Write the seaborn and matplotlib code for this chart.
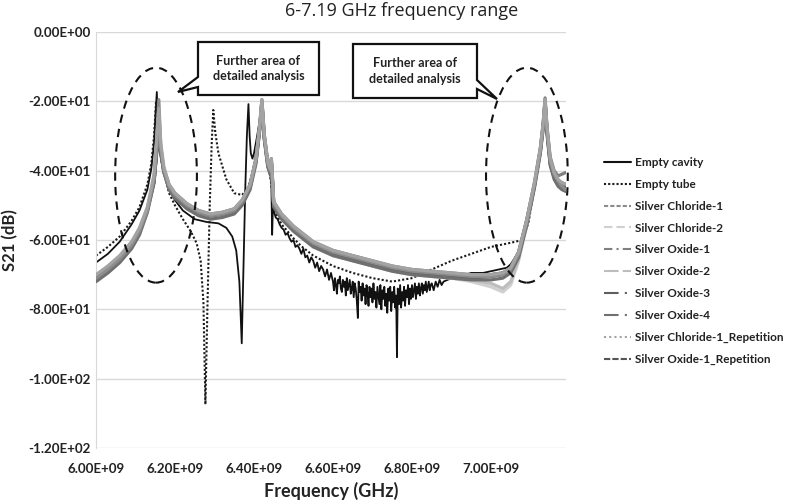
import numpy as np
import pandas as pd
import seaborn as sns
import matplotlib
matplotlib.use("Agg")
import matplotlib.pyplot as plt
from matplotlib.patches import Ellipse, Polygon
from matplotlib.ticker import FuncFormatter

# ---- data (frequency in GHz, S21 in dB) ----
CAV_F = [6.000, 6.030, 6.060, 6.090, 6.110, 6.130, 6.140, 6.147, 6.151, 6.154,
         6.157, 6.161, 6.170, 6.185, 6.200, 6.220, 6.250, 6.280, 6.310, 6.330,
         6.345, 6.355, 6.363, 6.369, 6.373, 6.378, 6.382, 6.386, 6.389, 6.392,
         6.396, 6.400, 6.408, 6.415, 6.420, 6.426, 6.435, 6.441, 6.444, 6.446,
         6.448]
CAV_DB = [-66.5, -64.0, -60.5, -55.5, -51.5, -45.5, -39.5, -32.0, -23.0, -17.3,
          -27.0, -34.0, -40.5, -45.5, -48.5, -51.5, -54.0, -54.8, -55.2, -56.5,
          -59.0, -63.0, -72.0, -89.8, -70.0, -45.0, -30.0, -20.8, -30.0, -35.0,
          -36.5, -35.0, -30.0, -25.0, -20.5, -30.0, -38.0, -41.0, -44.0, -58.5,
          -50.0]
# noisy stretch of the empty cavity trace (MHz)
CAV_NOISE_F = [6450, 6455, 6460, 6465, 6470, 6475, 6480, 6485, 6490, 6495,
               6500, 6505, 6510, 6515, 6520, 6525, 6530, 6535, 6540, 6545,
               6550, 6555, 6560, 6565, 6570, 6575, 6580, 6585, 6590, 6595,
               6600, 6602.5, 6605, 6607.5, 6610, 6612.5, 6615, 6617.5, 6620, 6622.5,
               6625, 6627.5, 6630, 6632.5, 6635, 6637.5, 6640, 6642.5, 6645, 6647.5,
               6650, 6652.5, 6655, 6657.5, 6660, 6663, 6665, 6667.5, 6670, 6672.5,
               6675, 6677.5, 6680, 6682.5, 6685, 6687.5, 6690, 6692.5, 6695, 6697.5,
               6700, 6702.5, 6705, 6707.5, 6710, 6712.5, 6715, 6717.5, 6720, 6722.5,
               6725, 6727.5, 6730, 6732.5, 6735, 6737.5, 6740, 6742.5, 6745, 6747.5,
               6750, 6752.5, 6755, 6757.5, 6760, 6762, 6764, 6767.5, 6770, 6772.5,
               6775, 6777.5, 6780, 6782.5, 6785, 6787.5, 6790, 6792.5, 6795, 6797.5,
               6800, 6802.5, 6805, 6807.5, 6810, 6812.5, 6815, 6817.5, 6820, 6822.5,
               6825, 6827.5, 6830, 6832.5, 6835, 6837.5, 6840, 6842.5, 6845, 6847.5,
               6850, 6855, 6860, 6865, 6870, 6875, 6880, 6890, 6900]
CAV_NOISE_DB = [-51.5, -53.5, -54.0, -55.5, -56.5, -57.0, -58.5, -58.0, -59.5, -60.5,
                -60.0, -62.0, -61.5, -62.5, -64.0, -62.5, -65.0, -64.5, -66.5, -65.0,
                -66.0, -68.0, -66.5, -69.0, -67.5, -68.5, -70.5, -68.5, -71.5, -69.5,
                -72.0, -74.5, -71.0, -73.0, -75.5, -71.5, -72.5, -70.5, -74.0, -75.0,
                -71.5, -73.5, -72.0, -76.0, -71.0, -74.5, -73.0, -71.5, -75.5, -74.0,
                -72.0, -76.5, -72.5, -74.0, -77.0, -82.5, -72.0, -75.0, -73.5, -77.5,
                -72.5, -76.0, -74.0, -78.5, -73.0, -75.5, -79.0, -73.5, -76.5, -74.0,
                -78.0, -72.5, -77.0, -75.0, -79.5, -73.5, -76.0, -78.5, -73.0, -80.0,
                -74.5, -77.0, -73.5, -79.0, -75.5, -81.0, -74.0, -77.5, -73.5, -80.5,
                -75.0, -78.0, -73.5, -79.5, -76.0, -93.8, -74.0, -78.5, -73.0, -79.5,
                -75.0, -77.5, -73.5, -79.0, -74.5, -76.5, -73.0, -78.5, -74.0, -77.0,
                -73.0, -76.5, -74.5, -72.5, -77.0, -73.5, -75.5, -72.5, -76.0, -74.0,
                -72.5, -75.5, -73.0, -74.5, -72.0, -75.0, -73.5, -72.0, -74.5, -73.0,
                -72.5, -74.5, -72.0, -73.5, -71.5, -73.0, -72.0, -71.5, -71.0]
CAV_RIGHT_F = [6.920, 6.950, 6.980, 7.000, 7.020, 7.040, 7.050, 7.070, 7.090, 7.110,
               7.125, 7.132, 7.137, 7.142, 7.150, 7.160, 7.170, 7.180, 7.190]
CAV_RIGHT_DB = [-70.5, -69.5, -69.5, -69.0, -68.5, -68.0, -67.0, -63.5, -55.0, -44.0,
                -34.0, -27.0, -21.0, -29.0, -38.0, -42.0, -44.0, -45.0, -45.5]

TUBE_F = [6.000, 6.030, 6.060, 6.090, 6.110, 6.130, 6.140, 6.147, 6.152, 6.156,
          6.160, 6.170, 6.185, 6.200, 6.220, 6.240, 6.255, 6.265, 6.272, 6.277,
          6.282, 6.288, 6.293, 6.297, 6.302, 6.310, 6.330, 6.350, 6.370, 6.385,
          6.395, 6.405, 6.414, 6.420, 6.426, 6.435, 6.441, 6.446, 6.450, 6.470,
          6.500, 6.520, 6.550, 6.600, 6.650, 6.700, 6.750, 6.800, 6.850, 6.900,
          6.950, 7.000, 7.050, 7.080, 7.095, 7.110, 7.125, 7.132, 7.137, 7.142,
          7.150, 7.160, 7.170, 7.180, 7.190]
TUBE_DB = [-64.5, -62.0, -59.0, -54.5, -50.5, -44.0, -38.0, -30.0, -20.0, -25.0,
           -33.0, -40.0, -46.5, -50.0, -54.0, -57.5, -61.0, -66.0, -78.0, -107.4,
           -80.0, -50.0, -32.0, -22.5, -29.0, -35.0, -42.5, -46.5, -47.0, -45.0,
           -41.0, -35.0, -27.5, -21.0, -31.0, -39.0, -41.5, -46.0, -51.0, -55.5,
           -59.5, -61.8, -64.5, -67.5, -69.5, -71.0, -72.0, -71.0, -68.5, -66.0,
           -64.0, -62.0, -60.8, -60.0, -55.0, -45.0, -35.0, -28.0, -22.0, -30.0,
           -38.0, -42.5, -44.0, -44.5, -45.0]

GREY_F = [6.000, 6.030, 6.060, 6.090, 6.110, 6.130, 6.147, 6.154, 6.159, 6.164,
          6.172, 6.185, 6.200, 6.230, 6.260, 6.290, 6.320, 6.350, 6.370, 6.390,
          6.405, 6.414, 6.420, 6.426, 6.435, 6.441, 6.444, 6.447, 6.450, 6.470,
          6.500, 6.550, 6.600, 6.650, 6.700, 6.750, 6.800, 6.850, 6.900, 6.950,
          7.000, 7.030, 7.050, 7.070, 7.090, 7.110, 7.125, 7.132, 7.137, 7.142,
          7.150, 7.160, 7.170, 7.180, 7.190]
SC1_DB = [-71.0, -68.5, -65.5, -61.5, -57.5, -51.5, -42.0, -32.0, -19.5, -33.0,
          -40.0, -44.5, -47.0, -50.0, -52.0, -53.0, -52.5, -51.5, -49.0, -44.5,
          -37.0, -28.0, -20.0, -30.0, -38.0, -40.0, -37.0, -43.0, -49.5, -53.0,
          -56.5, -61.0, -63.5, -65.0, -66.5, -68.0, -69.0, -69.5, -70.0, -70.5,
          -70.5, -70.0, -68.5, -64.0, -55.0, -44.0, -34.0, -27.0, -19.5, -28.0,
          -37.0, -41.0, -43.0, -44.5, -45.5]
SC2_DB = [-72.0, -69.5, -66.5, -62.5, -58.5, -52.0, -43.5, -34.0, -31.0, -35.0,
          -40.5, -45.0, -47.5, -50.5, -52.5, -53.5, -53.0, -52.0, -49.5, -45.0,
          -37.5, -28.5, -20.5, -30.5, -38.5, -40.5, -38.0, -44.0, -50.0, -53.5,
          -57.0, -61.5, -64.0, -65.5, -67.0, -68.5, -69.5, -70.5, -71.0, -72.0,
          -73.5, -75.0, -73.0, -66.0, -56.0, -45.0, -35.0, -28.0, -20.0, -29.0,
          -38.0, -42.0, -44.0, -45.0, -46.0]
SO1_DB = [-70.5, -68.0, -65.0, -61.0, -57.0, -51.0, -42.5, -33.5, -30.5, -34.0,
          -39.5, -44.0, -46.5, -49.5, -51.5, -52.5, -52.0, -51.0, -48.5, -44.0,
          -36.5, -27.5, -19.5, -29.5, -37.5, -39.5, -36.5, -42.5, -49.0, -52.5,
          -56.0, -60.5, -63.0, -64.5, -66.0, -67.5, -68.5, -69.0, -69.5, -70.0,
          -70.0, -69.5, -68.0, -63.5, -54.5, -43.5, -33.5, -26.5, -19.0, -27.5,
          -36.0, -40.0, -41.5, -41.0, -40.5]
SO2_DB = [-71.5, -69.0, -66.0, -62.0, -58.0, -51.5, -43.0, -33.0, -30.0, -34.5,
          -40.0, -45.0, -47.5, -50.5, -52.5, -53.5, -53.0, -52.0, -49.5, -45.0,
          -37.5, -28.5, -20.5, -30.5, -38.5, -40.5, -37.5, -43.5, -50.0, -53.5,
          -57.0, -61.5, -64.5, -66.0, -67.5, -69.0, -70.0, -70.5, -71.0, -71.5,
          -72.5, -74.0, -72.0, -65.5, -55.5, -44.5, -34.5, -27.5, -20.0, -28.5,
          -37.5, -41.5, -43.5, -45.0, -46.0]
SO3_DB = [-71.0, -68.5, -65.5, -61.5, -57.5, -51.5, -43.0, -34.0, -32.0, -35.0,
          -40.0, -44.5, -47.0, -50.0, -52.0, -53.0, -52.5, -51.5, -49.0, -44.5,
          -37.0, -28.0, -20.0, -30.0, -38.0, -40.0, -37.0, -43.0, -49.5, -53.0,
          -56.5, -61.0, -63.5, -65.0, -66.5, -68.0, -69.0, -69.5, -70.0, -70.5,
          -70.0, -69.5, -68.0, -63.5, -54.5, -44.0, -34.0, -27.0, -20.0, -28.5,
          -37.5, -41.5, -43.0, -44.0, -44.5]
SO4_DB = [-72.0, -69.5, -66.5, -62.5, -58.5, -52.0, -43.5, -33.5, -30.0, -34.5,
          -40.5, -45.5, -48.0, -51.0, -53.0, -54.0, -53.5, -52.5, -50.0, -45.5,
          -38.0, -29.0, -21.0, -31.0, -39.0, -41.0, -38.0, -44.0, -50.5, -54.0,
          -57.5, -62.0, -64.5, -66.0, -67.5, -69.0, -70.0, -70.5, -71.0, -71.5,
          -71.5, -71.0, -69.5, -65.0, -56.0, -45.0, -35.0, -28.0, -20.5, -29.5,
          -38.5, -42.5, -44.5, -45.5, -46.0]
SC1R_DB = [-70.0, -67.5, -64.5, -60.5, -56.5, -50.5, -41.0, -30.0, -22.0, -32.0,
           -39.0, -44.0, -46.5, -49.5, -51.5, -52.5, -52.0, -51.0, -48.5, -44.0,
           -36.5, -27.5, -19.5, -29.5, -37.5, -39.5, -36.5, -42.5, -49.0, -52.5,
           -56.0, -60.5, -63.0, -64.5, -66.0, -67.5, -68.5, -69.0, -69.5, -70.0,
           -70.0, -69.5, -68.0, -63.5, -54.5, -43.5, -33.5, -26.5, -19.5, -27.5,
           -36.5, -40.5, -42.5, -43.5, -44.0]
SO1R_DB = [-70.5, -68.0, -65.0, -61.0, -57.0, -51.0, -43.0, -34.5, -31.5, -34.5,
           -40.0, -44.5, -47.0, -50.0, -52.0, -53.0, -52.5, -51.5, -49.0, -44.5,
           -37.0, -28.5, -20.5, -30.5, -38.5, -40.5, -37.5, -43.5, -50.0, -53.5,
           -57.0, -61.5, -64.0, -65.5, -67.0, -68.5, -69.5, -70.0, -70.5, -71.0,
           -70.5, -70.0, -68.5, -64.5, -55.5, -44.5, -34.5, -27.5, -20.5, -29.0,
           -38.0, -42.0, -43.0, -43.5, -44.0]

LABELS = ["Empty cavity", "Empty tube", "Silver Chloride-1", "Silver Chloride-2",
          "Silver Oxide-1", "Silver Oxide-2", "Silver Oxide-3", "Silver Oxide-4",
          "Silver Chloride-1_Repetition", "Silver Oxide-1_Repetition"]

# ---- build series ----
cav_f = CAV_F + [m / 1000 for m in CAV_NOISE_F] + CAV_RIGHT_F
cav_db = CAV_DB + CAV_NOISE_DB + CAV_RIGHT_DB
series = {
    "Empty cavity": (cav_f, cav_db),
    "Empty tube": (TUBE_F, TUBE_DB),
    "Silver Chloride-1": (GREY_F, SC1_DB),
    "Silver Chloride-2": (GREY_F, SC2_DB),
    "Silver Oxide-1": (GREY_F, SO1_DB),
    "Silver Oxide-2": (GREY_F, SO2_DB),
    "Silver Oxide-3": (GREY_F, SO3_DB),
    "Silver Oxide-4": (GREY_F, SO4_DB),
    "Silver Chloride-1_Repetition": (GREY_F, SC1R_DB),
    "Silver Oxide-1_Repetition": (GREY_F, SO1R_DB),
}
# colour, plot width, legend dash style, drawing order
styles = {
    "Empty cavity": ("#111111", 1.3, "-", 1),
    "Empty tube": ("#1a1a1a", 1.5, (0, (1, 1)), 2),
    "Silver Chloride-1": ("#8c8c8c", 2.3, (0, (2, 1)), 9),
    "Silver Chloride-2": ("#d0d0d0", 2.3, (0, (4, 2)), 3),
    "Silver Oxide-1": ("#808080", 2.3, (0, (4, 2, 1, 2)), 8),
    "Silver Oxide-2": ("#bdbdbd", 2.3, (0, (7, 2)), 4),
    "Silver Oxide-3": ("#5e5e5e", 2.3, (0, (7, 3, 1, 2, 1, 2)), 5),
    "Silver Oxide-4": ("#707070", 2.3, (0, (7, 3, 1, 2, 1, 2)), 7),
    "Silver Chloride-1_Repetition": ("#a3a3a3", 2.3, (0, (1, 1.5)), 10),
    "Silver Oxide-1_Repetition": ("#555555", 2.3, (0, (3, 1)), 6),
}

sns.set_style("white")
plt.rcParams["font.family"] = ["Lato", "DejaVu Sans"]

fig = plt.figure(figsize=(7.88, 5.04), dpi=100)
ax = fig.add_axes([96 / 788, 1 - 448 / 504, 470 / 788, 416 / 504])

for name in LABELS:
    f, db = series[name]
    col, lw, ls, z = styles[name]
    df = pd.DataFrame({"f": np.array(f) * 1e9, "db": db})
    sns.lineplot(data=df, x="f", y="db", ax=ax, color=col, lw=lw, label=name,
                 estimator=None, sort=False, zorder=z,
                 linestyle=ls if name == "Empty tube" else "-")

ax.set_xlim(6.0e9, 7.19e9)
ax.set_ylim(-120, 0)
ax.set_xticks(np.arange(6.0e9, 7.01e9, 0.2e9))
ax.set_yticks(np.arange(-120, 1, 20))
fmt = FuncFormatter(lambda v, p: f"{v:.2E}")
ax.xaxis.set_major_formatter(fmt)
ax.yaxis.set_major_formatter(fmt)
ax.tick_params(length=0, labelsize=9.6, labelcolor="#222222")
ax.tick_params(axis="x", pad=11)
ax.tick_params(axis="y", pad=4)
for lab in ax.get_xticklabels() + ax.get_yticklabels():
    lab.set_fontweight("bold")
ax.grid(axis="y", color="#d9d9d9", lw=1)
ax.set_axisbelow(True)
for s in ["top", "right", "bottom"]:
    ax.spines[s].set_visible(False)
ax.spines["left"].set_color("#d9d9d9")

ax.set_xlabel("Frequency (GHz)", fontsize=13, fontweight="bold", color="#222222", labelpad=5)
ax.set_ylabel("S21 (dB)", fontsize=12, fontweight="bold", color="#222222", labelpad=7)
fig.text(402 / 788, 1 - 11 / 504, "6-7.19 GHz frequency range", ha="center", va="center",
         fontsize=13, color="#222222", family=["Open Sans", "DejaVu Sans"])

# legend: traces drawn solid (dense data), legend shows the dash styles
handles, labels = ax.get_legend_handles_labels()
if ax.legend_:
    ax.legend_.remove()
leg = fig.legend(handles, labels, loc="upper left", bbox_to_anchor=(604 / 788, 1 - 157 / 504),
                 frameon=False, fontsize=8.5, handlelength=2.3, handletextpad=0.3,
                 labelspacing=0.92, borderpad=0, borderaxespad=0)
for txt in leg.get_texts():
    txt.set_fontweight("bold")
    txt.set_color("#222222")
for h, name in zip(leg.get_lines(), labels):
    col, lw, ls, z = styles[name]
    h.set_linestyle(ls)
    h.set_linewidth(1.5)

# highlight ellipses
for cx in [6.152e9, 7.091e9]:
    ax.add_patch(Ellipse((cx, -41.3), 0.207e9, 62, fill=False, ec="#111111", lw=1.5,
                         ls=(0, (4, 3)), zorder=20, clip_on=False))


# callout boxes (pixel positions converted to axes fractions)
def px(x, y):
    return ((x - 96) / 470, (448 - y) / 416)


box1 = [px(198, 42), px(319, 42), px(319, 95), px(198, 95), px(198, 87), px(178, 92), px(198, 77)]
box2 = [px(353, 44), px(477, 44), px(477, 80), px(497, 99), px(477, 89), px(477, 98), px(353, 98)]
for pts, (tx, ty) in [(box1, (258.5, 68.5)), (box2, (415, 71))]:
    ax.add_patch(Polygon(pts, closed=True, fc="white", ec="#111111", lw=1.6,
                         transform=ax.transAxes, zorder=25, clip_on=False))
    ax.text(*px(tx, ty), "Further area of\ndetailed analysis", transform=ax.transAxes,
            ha="center", va="center", fontsize=9, fontweight="bold", color="#222222",
            zorder=26, linespacing=1.35)

fig.savefig("out.png", dpi=100)
